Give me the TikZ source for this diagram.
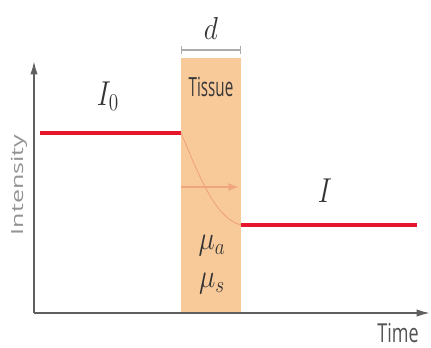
\documentclass[tikz,border=0pt]{standalone}
\usepackage{fontspec}
\setsansfont{Open Sans}
\usetikzlibrary{arrows.meta}
\definecolor{tissuefill}{RGB}{248,202,154}
\definecolor{beamred}{RGB}{230,22,45}
\definecolor{pathpink}{RGB}{238,160,120}
\definecolor{axisgray}{RGB}{95,95,95}
\tikzset{
  axisline/.style={axisgray,line width=1.3pt,-{Latex[length=10pt,width=5.5pt]}},
  beam/.style={beamred,line width=2.3pt},
  symlabel/.style={font=\fontsize{20}{24}\selectfont},
}
\begin{document}
\begin{tikzpicture}[x=0.75pt,y=-0.75pt]
\useasboundingbox (0,0) rectangle (431,347);

% ---- the tissue slab ----
\fill[tissuefill] (181,58) rectangle (241,313);
\node[font=\sffamily\fontsize{12}{14}\selectfont,text=black!78] (tissue) at (211,87)
  {\scalebox{0.95}[1.65]{Tissue}};

% ---- thickness d ----
\coordinate (dl) at (181,50);
\coordinate (dr) at (241,50);
\draw[gray!65,line width=0.9pt,|-|] (dl) -- (dr);
\node[symlabel,text=black!80] (thick) at (211,28) {\scalebox{1}[1.15]{$d$}};

% ---- axes ----
\coordinate (origin) at (34,313);
\coordinate (ytop) at (34,61);
\coordinate (xend) at (430,313);
\draw[axisline] (origin) -- (ytop);
\draw[axisline] (origin) -- (xend);
\node[font=\sffamily\fontsize{12.5}{14}\selectfont,text=gray!85,rotate=90] (ylab) at (19,185)
  {\scalebox{1.5}[1]{Intensity}};
\node[font=\sffamily\fontsize{13.5}{16}\selectfont,text=black!68] (xlab) at (398,333)
  {\scalebox{1}[1.45]{Time}};

% ---- incident and transmitted intensity ----
\coordinate (inA) at (40,133);
\coordinate (inB) at (181,133);
\coordinate (outA) at (241,225);
\coordinate (outB) at (417,225);
\draw[beam] (inA) -- (inB);
\draw[beam] (outA) -- (outB);
\node[symlabel,text=black!80] (izero) at (108,96) {\scalebox{1}[1.25]{$I_0$}};
\node[symlabel,text=black!80] (iout) at (325,191) {\scalebox{1}[1.25]{$I$}};

% ---- decay inside the tissue ----
\draw[pathpink,line width=0.6pt] (inB) .. controls (198,172) and (214,218) .. (outA);
\coordinate (arrA) at (181,187);
\coordinate (arrB) at (239,187);
\draw[pathpink!85!tissuefill,line width=1.3pt,-{Latex[length=8pt,width=6pt]}] (arrA) -- (arrB);

% ---- optical coefficients ----
\node[symlabel,text=black!80] (mua) at (212,246) {\scalebox{1}[1.2]{$\mu_a$}};
\node[symlabel,text=black!80] (mus) at (212,284) {\scalebox{1}[1.2]{$\mu_s$}};

\end{tikzpicture}
\end{document}
